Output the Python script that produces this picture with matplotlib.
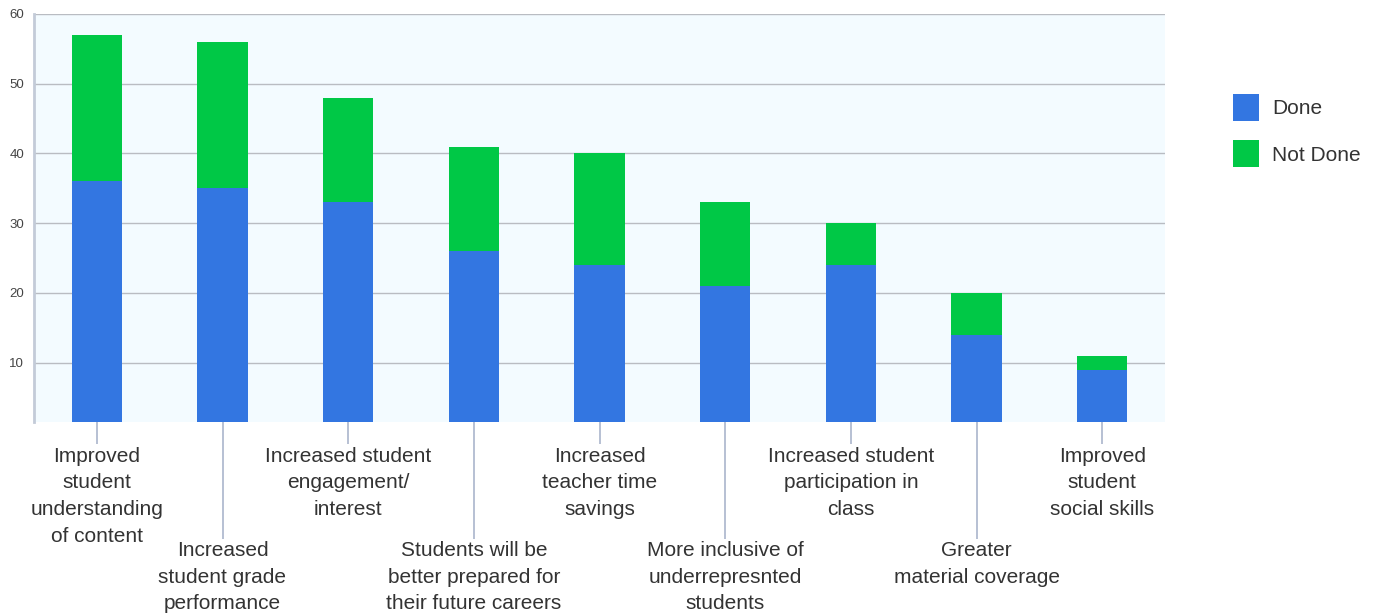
import matplotlib.pyplot as plt
import numpy as np

plt.rcParams['font.family'] = ['Liberation Sans', 'DejaVu Sans']

categories = [
    "Improved\nstudent\nunderstanding\nof content",
    "Increased\nstudent grade\nperformance",
    "Increased student\nengagement/\ninterest",
    "Students will be\nbetter prepared for\ntheir future careers",
    "Increased\nteacher time\nsavings",
    "More inclusive of\nunderrepresnted\nstudents",
    "Increased student\nparticipation in\nclass",
    "Greater\nmaterial coverage",
    "Improved\nstudent\nsocial skills",
]
done = [36, 35, 33, 26, 24, 21, 24, 14, 9]
not_done = [21, 21, 15, 15, 16, 12, 6, 6, 2]
y_ticks = [10, 20, 30, 40, 50, 60]

blue = "#3376e1"
green = "#00c846"
text_col = "#333333"

fig = plt.figure(figsize=(13.76, 6.16), dpi=100)
ax = fig.add_axes([34 / 1376, 1 - 422 / 616, 1131 / 1376, 408 / 616])
ax.set_facecolor("#f3fbff")

x = np.arange(len(categories))
ax.bar(x, done, width=0.4, color=blue, label="Done", zorder=3)
ax.bar(x, not_done, width=0.4, bottom=done, color=green, label="Not Done", zorder=3)

ax.set_xlim(-0.5, len(categories) - 0.5)
ax.set_ylim(1.5, 60)
ax.set_yticks(y_ticks)
ax.set_yticklabels([str(v) for v in y_ticks], fontsize=9.5, color="#444444")
ax.yaxis.grid(True, color="#b9bcc2", linewidth=1, zorder=0)
ax.tick_params(axis="y", length=0, pad=7)

# alternate labels between a short and a long tick to stagger them
ax.set_xticks(x[::2])
ax.set_xticklabels(categories[::2])
ax.set_xticks(x[1::2], minor=True)
ax.set_xticklabels(categories[1::2], minor=True)
ax.tick_params(axis="x", which="major", length=16, width=1.2, color="#aab5cc", pad=2)
ax.tick_params(axis="x", which="minor", length=84, width=1.2, color="#aab5cc", pad=2)
for lbl in ax.get_xticklabels(which="both"):
    lbl.set_fontsize(15)
    lbl.set_color(text_col)
    lbl.set_linespacing(1.5)
    lbl.set_horizontalalignment("center")
    lbl.set_verticalalignment("top")

for side in ["top", "right", "bottom"]:
    ax.spines[side].set_visible(False)
ax.spines["left"].set_color("#c3cbd8")
ax.spines["left"].set_linewidth(2)

leg = ax.legend(loc="upper left", bbox_to_anchor=(1.053, 0.825), frameon=False,
                fontsize=15, handlelength=1.25, handleheight=1.6,
                handletextpad=0.6, labelspacing=0.95, borderaxespad=0)
for t in leg.get_texts():
    t.set_color(text_col)

fig.savefig("out.png", dpi=100)
